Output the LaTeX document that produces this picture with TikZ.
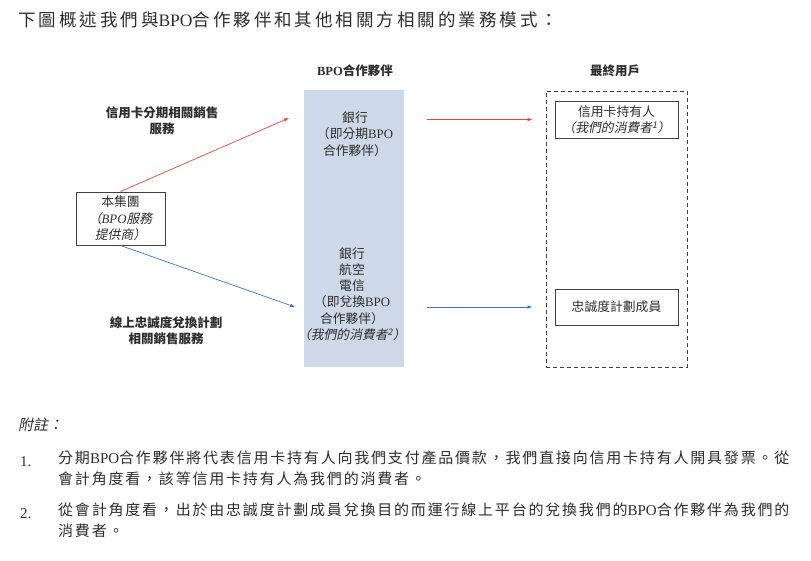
\documentclass[tikz,border=0pt]{standalone}
\usepackage{fontspec}
\setmainfont{Noto Sans CJK TC}[AutoFakeSlant=0.2]
\newfontfamily\serifbpo{Liberation Serif}
\newcommand\bpo{{\serifbpo BPO}}
\usepackage{tikz}
\usetikzlibrary{arrows.meta,positioning}
\definecolor{colfill}{RGB}{205,217,233}
\definecolor{redarr}{RGB}{238,64,64}
\definecolor{bluearr}{RGB}{70,112,190}
\definecolor{txtgray}{RGB}{45,45,45}

\begin{document}
\begin{tikzpicture}[
    x=1pt, y=-1pt,
    every node/.style={text=txtgray, inner sep=0pt},
    dtext/.style={font=\fontsize{12.8}{16.3}\selectfont, align=center},
    htext/.style={font=\fontsize{12.5}{16}\selectfont\bfseries, align=center},
    ntext/.style={font=\fontsize{15}{21}\selectfont\addfontfeature{LetterSpace=12}, align=left},
    plainbox/.style={draw=black!75, line width=1pt, dtext},
    redline/.style={-{Latex[length=5pt,width=3.5pt]}, redarr, line width=0.7pt},
    blueline/.style={-{Latex[length=5pt,width=3.5pt]}, bluearr, line width=0.7pt}
]
\useasboundingbox (0,0) rectangle (811,560);

% heading
\node[anchor=west, font=\fontsize{17.5}{20}\selectfont\addfontfeature{LetterSpace=17}] (title) at (18,20)
    {下圖概述我們與\bpo 合作夥伴和其他相關方相關的業務模式：};

% BPO partners column
\node[fill=colfill, minimum width=100pt, minimum height=277pt] (bpocol) at (354,228.5) {};
\node[htext] (hdrbpo) at (355,71) {\bpo 合作夥伴};
\node[dtext] (bank1) at (355,134) {銀行\\（即分期\bpo\\合作夥伴）};
\node[dtext] (bank2) at (352,294) {銀行\\航空\\電信\\（即兌換\bpo\\合作夥伴）\\\itshape（我們的消費者\textsuperscript{2}）};

% end users
\node[htext] (hdrend) at (615,71) {最終用戶};
\node[draw=black!75, dashed, dash pattern=on 4pt off 3pt, line width=1pt,
      minimum width=141pt, minimum height=276pt] (endusers) at (616.5,229) {};
\node[plainbox, minimum width=123pt, minimum height=37pt] (holder) at (616.5,119.5)
    {信用卡持有人\\\itshape（我們的消費者\textsuperscript{1}）};
\node[plainbox, minimum width=123pt, minimum height=36pt] (member) at (616.5,307) {忠誠度計劃成員};

% the group
\node[plainbox, minimum width=89pt, minimum height=53pt] (group) at (120.5,218.5)
    {本集團\\\itshape（\bpo 服務\\\itshape 提供商）};
\node[htext] (lab1) at (162,121) {信用卡分期相關銷售\\服務};
\node[htext] (lab2) at (166,331) {線上忠誠度兌換計劃\\相關銷售服務};

\coordinate (redend) at (289,118);
\coordinate (blueend) at (295,307);
\draw[redline] (group.north) -- (redend);
\draw[blueline] (group.south) -- (blueend);
\draw[redline] ([xshift=23pt]bpocol.east |- holder) -- ([xshift=-22pt]holder.west);
\draw[blueline] ([xshift=23pt]bpocol.east |- member) -- ([xshift=-22pt]member.west);

% notes
\node[anchor=west, ntext, font=\fontsize{15}{21}\selectfont\itshape] (notehd) at (18,425) {附註：};
\node[anchor=west, ntext] (num1) at (20,462) {{\serifbpo 1.}};
\node[anchor=north west, ntext] (note1) at (58,451)
    {分期\bpo 合作夥伴將代表信用卡持有人向我們支付產品價款，我們直接向信用卡持有人開具發票。從\\會計角度看，該等信用卡持有人為我們的消費者。};
\node[anchor=west, ntext] (num2) at (20,514) {{\serifbpo 2.}};
\node[anchor=north west, ntext] (note2) at (58,503)
    {從會計角度看，出於由忠誠度計劃成員兌換目的而運行線上平台的兌換我們的\bpo 合作夥伴為我們的\\消費者。};
\end{tikzpicture}
\end{document}
